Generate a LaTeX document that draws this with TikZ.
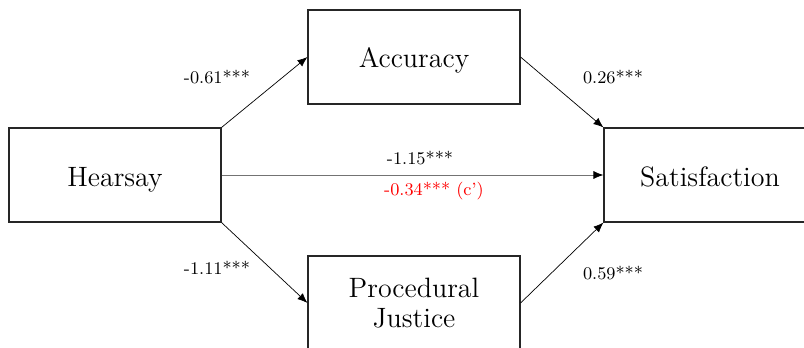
\documentclass[tikz,border=0pt]{standalone}
\usetikzlibrary{arrows.meta}
\begin{document}
\begin{tikzpicture}[x=0.5pt,y=-0.5pt,
  box/.style={draw=black!85, line width=0.55pt, fill=white, minimum width=106pt, minimum height=47pt, inner sep=0pt, align=center, font=\fontsize{14}{16}\selectfont},
  onebox/.style={box, text height=11pt, text depth=0pt},
  conn/.style={draw=black, line width=0.35pt, -{Latex[length=5pt,width=4pt,color=black]}},
  lab/.style={font=\fontsize{8.9}{10}\selectfont, inner sep=0pt}]
\useasboundingbox (0,0) rectangle (804,348);
\clip (0,0) rectangle (804,348);
\node[onebox] (hear) at (115,175) {Hearsay};
\node[onebox] (acc) at (414,57) {Accuracy};
\node[onebox] (sat) at (710,175) {Satisfaction};
\node[box] (proc) at (414,303) {Procedural\\[-1pt]Justice};
\draw[conn] (hear.north east) -- (acc.west);
\draw[conn] (acc.east) -- (sat.north west);
\draw[conn] (hear.south east) -- (proc.west);
\draw[conn] (proc.east) -- (sat.south west);
\draw[conn, draw=black!55] (hear.east) -- (sat.west);
\node[lab] (l1) at (217,77) {-0.61***};
\node[lab] (l2) at (613,77) {0.26***};
\node[lab] (l3) at (420,158) {-1.15***};
\node[lab, text=red] (l4) at (434,191) {-0.34*** (c')};
\node[lab] (l5) at (217,268) {-1.11***};
\node[lab] (l6) at (613,273) {0.59***};
\end{tikzpicture}
\end{document}
